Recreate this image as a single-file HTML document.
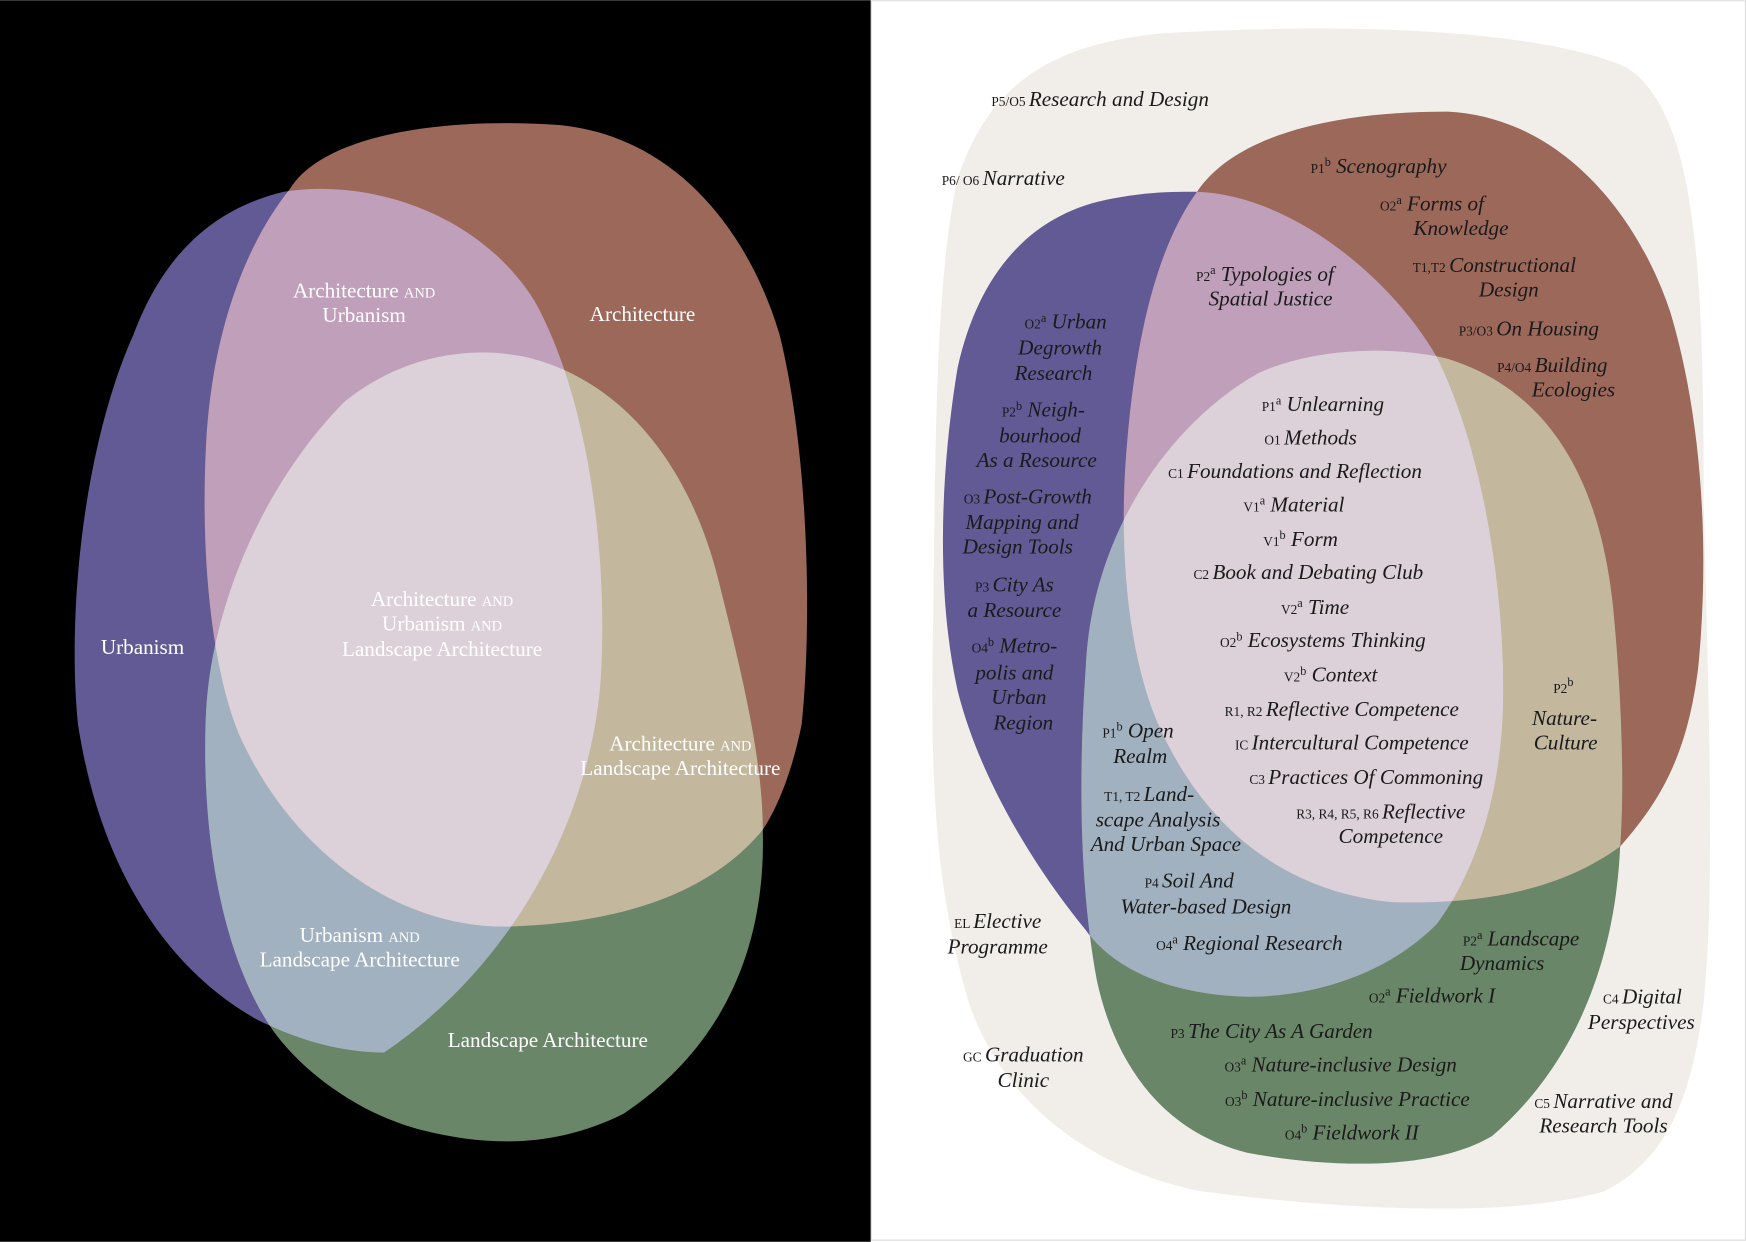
<!DOCTYPE html>
<html><head><meta charset="utf-8"><style>
html,body{margin:0;padding:0;background:#fff}
svg{display:block}
.w{font-family:"Liberation Serif",serif;font-size:19px;fill:#fff;text-anchor:middle}
.w .sc{font-size:13px}
.i{font-family:"Liberation Serif",serif;font-size:19px;font-style:italic;fill:#1a1a1a;text-anchor:middle}
.i .p{font-style:normal;font-size:12px}
.i .u{font-style:normal;font-size:11px}
</style></head><body>
<svg width="1746" height="1242" viewBox="0 0 1568 1115" xmlns="http://www.w3.org/2000/svg">
<defs>
<path id="P" d="M255,172 C330,160 430,190 480,270 C530,360 545,500 540,600 C535,720 470,860 345,945 C300,945 260,930 230,915 C150,870 90,780 70,650 C60,550 75,400 120,300 C150,220 200,185 255,172 Z"/>
<path id="B" d="M260,170 C290,120 400,105 500,112 C600,120 670,200 700,300 C725,400 730,550 720,650 C710,700 695,730 685,745 C640,800 560,830 450,832 C350,830 260,760 215,660 C190,600 180,500 185,400 C190,300 220,220 260,170 Z"/>
<path id="G" d="M185,640 C190,540 240,430 310,360 C360,320 420,310 470,320 C560,340 620,420 645,520 C665,600 685,680 685,745 C688,850 650,940 560,1000 C500,1030 440,1030 380,1015 C320,1000 270,960 245,925 C200,860 180,750 185,640 Z"/>
<path id="P2" d="M1075,172 C1160,175 1250,250 1290,320 C1330,400 1350,520 1350,620 C1350,720 1320,790 1290,830 C1240,880 1170,895 1120,895 C1050,893 1000,870 975,835 C930,780 880,700 860,620 C840,530 845,420 860,330 C880,240 930,190 1000,178 C1030,172 1055,172 1075,172 Z"/>
<path id="B2" d="M1075,172 C1110,120 1200,100 1300,100 C1400,105 1470,190 1500,280 C1530,380 1535,500 1525,600 C1515,680 1490,720 1455,760 C1400,800 1330,812 1250,810 C1150,800 1080,740 1040,650 C1010,580 1005,480 1012,400 C1020,300 1040,220 1075,172 Z"/>
<path id="G2" d="M975,600 C980,480 1050,380 1130,335 C1180,312 1250,310 1300,322 C1390,350 1440,430 1450,560 C1458,650 1458,720 1455,760 C1450,870 1410,960 1340,1020 C1290,1050 1200,1050 1120,1035 C1040,1015 1000,950 985,880 C970,800 968,700 975,600 Z"/>
<clipPath id="cP"><use href="#P"/></clipPath>
<clipPath id="cB"><use href="#B"/></clipPath>
<clipPath id="cP2"><use href="#P2"/></clipPath>
<clipPath id="cB2"><use href="#B2"/></clipPath>
</defs>
<rect x="0" y="0" width="782" height="1115" fill="#000"/>
<rect x="782.5" y="0.5" width="785" height="1113" fill="#fff" stroke="#ddd"/>
<use href="#P" fill="#625a94"/><use href="#B" fill="#9b685a"/><use href="#G" fill="#6a8669"/>
<g clip-path="url(#cP)"><use href="#B" fill="#c09fbb"/><use href="#G" fill="#a2b1c0"/></g>
<g clip-path="url(#cB)"><use href="#G" fill="#c3b79e"/></g>
<g clip-path="url(#cP)"><g clip-path="url(#cB)"><use href="#G" fill="#dcd1d8"/></g></g>
<path d="M1040,30 C1200,20 1380,25 1460,60 C1525,100 1530,250 1530,450 C1535,650 1540,800 1530,900 C1520,980 1500,1040 1440,1070 C1350,1095 1200,1085 1080,1070 C980,1050 900,990 870,900 C840,800 835,700 838,560 C840,400 840,250 860,160 C890,70 950,40 1040,30 Z" fill="#f1eeea"/>
<use href="#P2" fill="#625a94"/><use href="#B2" fill="#9b685a"/><use href="#G2" fill="#6a8669"/>
<g clip-path="url(#cP2)"><use href="#B2" fill="#c09fbb"/><use href="#G2" fill="#a2b1c0"/></g>
<g clip-path="url(#cB2)"><use href="#G2" fill="#c3b79e"/></g>
<g clip-path="url(#cP2)"><g clip-path="url(#cB2)"><use href="#G2" fill="#dcd1d8"/></g></g>

<text class="w" x="327" y="267">Architecture <tspan class="sc">AND</tspan></text>
<text class="w" x="327" y="289">Urbanism</text>
<text class="w" x="577" y="288">Architecture</text>
<text class="w" x="128" y="587">Urbanism</text>
<text class="w" x="397" y="544">Architecture <tspan class="sc">AND</tspan></text>
<text class="w" x="397" y="566">Urbanism <tspan class="sc">AND</tspan></text>
<text class="w" x="397" y="589">Landscape Architecture</text>
<text class="w" x="611" y="674">Architecture <tspan class="sc">AND</tspan></text>
<text class="w" x="611" y="696">Landscape Architecture</text>
<text class="w" x="323" y="846">Urbanism <tspan class="sc">AND</tspan></text>
<text class="w" x="323" y="868">Landscape Architecture</text>
<text class="w" x="492" y="940">Landscape Architecture</text>

<g class="i">
<text x="988" y="95"><tspan class="p">P5/O5 </tspan>Research and Design</text>
<text x="901" y="166"><tspan class="p">P6/ O6 </tspan>Narrative</text>
<text x="1238" y="155"><tspan class="p">P1</tspan><tspan class="u" dy="-6">b</tspan><tspan dy="6"> Scenography</tspan></text>
<text x="1286" y="189"><tspan class="p">O2</tspan><tspan class="u" dy="-6">a</tspan><tspan dy="6"> Forms of</tspan></text>
<text x="1312" y="211">Knowledge</text>
<text x="1342" y="244"><tspan class="p">T1,T2 </tspan>Constructional</text>
<text x="1355" y="266">Design</text>
<text x="1373" y="301"><tspan class="p">P3/O3 </tspan>On Housing</text>
<text x="1394" y="334"><tspan class="p">P4/O4 </tspan>Building</text>
<text x="1413" y="356">Ecologies</text>
<text x="1136" y="252"><tspan class="p">P2</tspan><tspan class="u" dy="-6">a</tspan><tspan dy="6"> Typologies of</tspan></text>
<text x="1141" y="274">Spatial Justice</text>
<text x="957" y="295"><tspan class="p">O2</tspan><tspan class="u" dy="-6">a</tspan><tspan dy="6"> Urban</tspan></text>
<text x="952" y="318">Degrowth</text>
<text x="946" y="341">Research</text>
<text x="937" y="374"><tspan class="p">P2</tspan><tspan class="u" dy="-6">b</tspan><tspan dy="6"> Neigh-</tspan></text>
<text x="934" y="397">bourhood</text>
<text x="931" y="419">As a Resource</text>
<text x="923" y="452"><tspan class="p">O3 </tspan>Post-Growth</text>
<text x="918" y="475">Mapping and</text>
<text x="914" y="497">Design Tools</text>
<text x="911" y="531"><tspan class="p">P3 </tspan>City As</text>
<text x="911" y="554">a Resource</text>
<text x="911" y="586"><tspan class="p">O4</tspan><tspan class="u" dy="-6">b</tspan><tspan dy="6"> Metro-</tspan></text>
<text x="911" y="610">polis and</text>
<text x="915" y="632">Urban</text>
<text x="919" y="655">Region</text>

<text x="1188" y="369"><tspan class="p">P1</tspan><tspan class="u" dy="-6">a</tspan><tspan dy="6"> Unlearning</tspan></text>
<text x="1177" y="399"><tspan class="p">O1 </tspan>Methods</text>
<text x="1163" y="429"><tspan class="p">C1 </tspan>Foundations and Reflection</text>
<text x="1162" y="459"><tspan class="p">V1</tspan><tspan class="u" dy="-6">a</tspan><tspan dy="6"> Material</tspan></text>
<text x="1168" y="490"><tspan class="p">V1</tspan><tspan class="u" dy="-6">b</tspan><tspan dy="6"> Form</tspan></text>
<text x="1175" y="520"><tspan class="p">C2 </tspan>Book and Debating Club</text>
<text x="1181" y="551"><tspan class="p">V2</tspan><tspan class="u" dy="-6">a</tspan><tspan dy="6"> Time</tspan></text>
<text x="1188" y="581"><tspan class="p">O2</tspan><tspan class="u" dy="-6">b</tspan><tspan dy="6"> Ecosystems Thinking</tspan></text>
<text x="1195" y="612"><tspan class="p">V2</tspan><tspan class="u" dy="-6">b</tspan><tspan dy="6"> Context</tspan></text>
<text x="1205" y="643"><tspan class="p">R1, R2 </tspan>Reflective Competence</text>
<text x="1214" y="673"><tspan class="p">IC </tspan>Intercultural Competence</text>
<text x="1227" y="704"><tspan class="p">C3 </tspan>Practices Of Commoning</text>
<text x="1240" y="735"><tspan class="p">R3, R4, R5, R6 </tspan>Reflective</text>
<text x="1249" y="757">Competence</text>

<text x="1404" y="622"><tspan class="p">P2</tspan><tspan class="u" dy="-6">b</tspan></text>
<text x="1405" y="651">Nature-</text>
<text x="1406" y="673">Culture</text>
<text x="1022" y="662"><tspan class="p">P1</tspan><tspan class="u" dy="-6">b</tspan><tspan dy="6"> Open</tspan></text>
<text x="1024" y="685">Realm</text>
<text x="1032" y="719"><tspan class="p">T1, T2 </tspan>Land-</text>
<text x="1040" y="742">scape Analysis</text>
<text x="1047" y="764">And Urban Space</text>
<text x="1068" y="797"><tspan class="p">P4 </tspan>Soil And</text>
<text x="1083" y="820">Water-based Design</text>
<text x="1122" y="853"><tspan class="p">O4</tspan><tspan class="u" dy="-6">a</tspan><tspan dy="6"> Regional Research</tspan></text>
<text x="896" y="833"><tspan class="p">EL </tspan>Elective</text>
<text x="896" y="856">Programme</text>
<text x="1366" y="849"><tspan class="p">P2</tspan><tspan class="u" dy="-6">a</tspan><tspan dy="6"> Landscape</tspan></text>
<text x="1349" y="871">Dynamics</text>
<text x="1286" y="900"><tspan class="p">O2</tspan><tspan class="u" dy="-6">a</tspan><tspan dy="6"> Fieldwork I</tspan></text>
<text x="1475" y="901"><tspan class="p">C4 </tspan>Digital</text>
<text x="1474" y="924">Perspectives</text>
<text x="1142" y="932"><tspan class="p">P3 </tspan>The City As A Garden</text>
<text x="919" y="953"><tspan class="p">GC </tspan>Graduation</text>
<text x="919" y="976">Clinic</text>
<text x="1204" y="962"><tspan class="p">O3</tspan><tspan class="u" dy="-6">a</tspan><tspan dy="6"> Nature-inclusive Design</tspan></text>
<text x="1210" y="993"><tspan class="p">O3</tspan><tspan class="u" dy="-6">b</tspan><tspan dy="6"> Nature-inclusive Practice</tspan></text>
<text x="1214" y="1023"><tspan class="p">O4</tspan><tspan class="u" dy="-6">b</tspan><tspan dy="6"> Fieldwork II</tspan></text>
<text x="1440" y="995"><tspan class="p">C5 </tspan>Narrative and</text>
<text x="1440" y="1017">Research Tools</text>
</g>
</svg>
</body></html>
